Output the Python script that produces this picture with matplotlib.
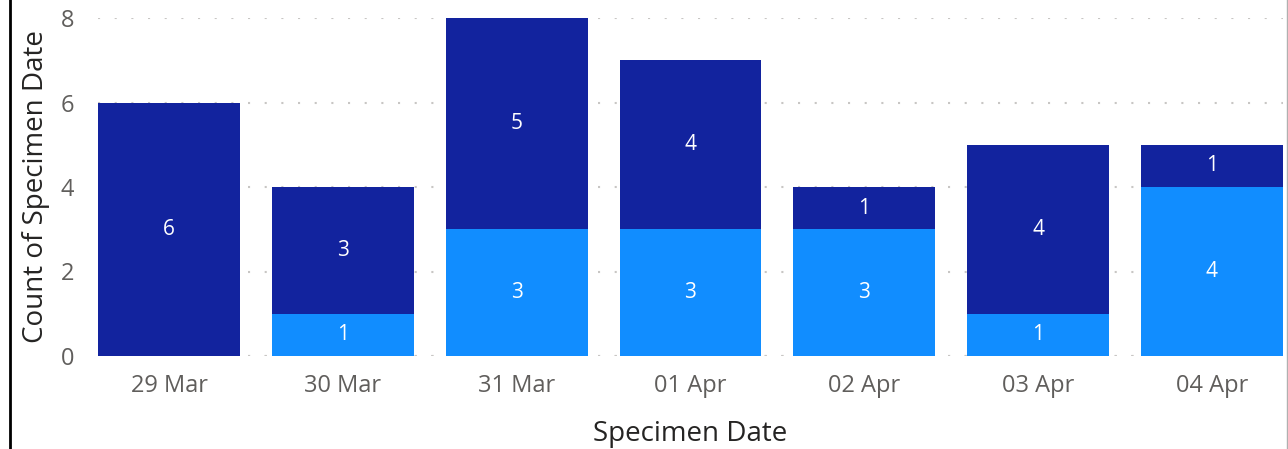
import matplotlib.pyplot as plt
import numpy as np
from matplotlib.lines import Line2D

plt.rcParams['font.family'] = ['Open Sans', 'DejaVu Sans']

dates = ['29 Mar', '30 Mar', '31 Mar', '01 Apr', '02 Apr', '03 Apr', '04 Apr']
light_vals = [0, 1, 3, 3, 3, 1, 4]
dark_vals = [6, 3, 5, 4, 1, 4, 1]

light_col = '#118DFF'
dark_col = '#12239E'

fig = plt.figure(figsize=(12.88, 4.49), dpi=100)
ax = fig.add_axes([98 / 1288, 93 / 449, 1185 / 1288, 338 / 449])

x = np.arange(len(dates))
w = 0.816
b1 = ax.bar(x, light_vals, width=w, color=light_col, zorder=2)
b2 = ax.bar(x, dark_vals, width=w, bottom=light_vals, color=dark_col, zorder=2)

for vals, base in [(light_vals, [0] * 7), (dark_vals, light_vals)]:
    for xi, v, b in zip(x, vals, base):
        if v > 0:
            ax.text(xi, b + v / 2, str(v), ha='center', va='center',
                    color='white', fontsize=15, zorder=3)

ax.set_xlim(-0.41, len(dates) - 1 + 0.41)
ax.set_ylim(0, 8)
ax.set_yticks([0, 2, 4, 6, 8])
ax.set_xticks(x)
ax.set_xticklabels(dates)
ax.grid(axis='y', color='#C8C6C4', linestyle=(0, (1, 7)), linewidth=1.5, zorder=0)
ax.axhline(0, color='#C8C6C4', linestyle=(0, (1, 7)), linewidth=1.5, zorder=0)
for s in ax.spines.values():
    s.set_visible(False)
ax.tick_params(length=0, labelsize=17, colors='#605E5C')
ax.tick_params(axis='x', pad=13)
ax.tick_params(axis='y', pad=17)
ax.set_xlabel('Specimen Date', fontsize=20, color='#252423', labelpad=16)
ax.set_ylabel('Count of Specimen Date', fontsize=20, color='#252423', labelpad=8)

fig.add_artist(Line2D([9.5 / 1288, 9.5 / 1288], [0, 1], color='black', linewidth=2))
fig.add_artist(Line2D([1286.5 / 1288, 1286.5 / 1288], [0, 1], color='#B0B0B0', linewidth=1))

fig.savefig('out.png', dpi=100)
